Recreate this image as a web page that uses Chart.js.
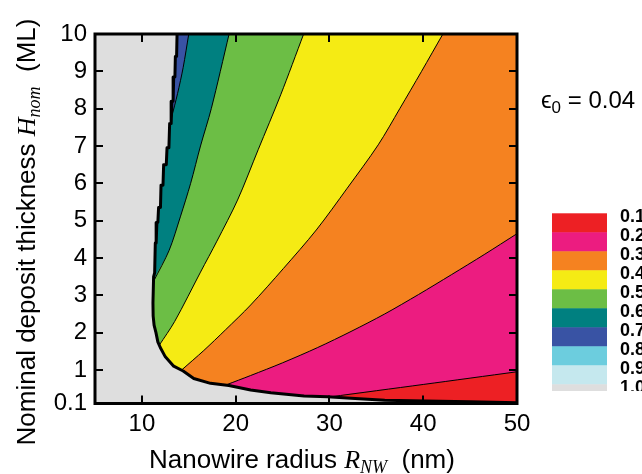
<!DOCTYPE html>
<html><head><meta charset="utf-8">
<script src="https://cdn.jsdelivr.net/npm/chart.js@4.4.1/dist/chart.umd.min.js"></script>
<style>html,body{margin:0;padding:0;background:#fff;}canvas{display:block;}</style>
</head><body>
<canvas id="c" width="642" height="474"></canvas>
<script>
// ---- axes ----
const xTicks = [10, 20, 30, 40, 50];
const xTickLabels = ['10', '20', '30', '40', '50'];
const yTicks = [0.1, 1, 2, 3, 4, 5, 6, 7, 8, 9, 10];
const yTickLabels = ['0.1', '1', '2', '3', '4', '5', '6', '7', '8', '9', '10'];

// ---- contour lines ([R_NW, H_nom]) ----
// thick outer boundary of the non-gray area (top -> bottom right)
const edgeLine = [
  [13.75,10],[13.7,9.4],[13.57,9.4],[13.52,8.85],[13.39,8.85],[13.33,8.2],[13.2,8.2],
  [13.12,7.6],[12.96,7.6],[12.88,6.95],[12.68,6.95],[12.6,6.5],[12.32,6.5],[12.25,5.95],
  [12.04,5.95],[11.98,5.35],[11.78,5.35],[11.7,4.95],[11.6,4.95],[11.52,4.4],[11.43,4.4],
  [11.36,3.6],[11.25,3.5],[11.18,2.8],[11.2,2.45],[11.3,2.2],[11.5,2.0],[11.7,1.75],
  [11.96,1.6],[12.5,1.35],[13.39,1.1],[14.4,0.97],[15.53,0.77],[17.32,0.64],[19.28,0.58],
  [21.6,0.46],[23.75,0.39],[27.3,0.30],[29.8,0.28],[32.3,0.24],[35.9,0.19],[40.2,0.17],
  [45,0.15],[50,0.12]
];
const line07 = [[15.0,10],[14.4,9.1],[13.8,8.4],[13.15,7.75]];
const line06 = [[19.3,10],[17.4,8],[16.25,7],[15.2,6],[14.1,5.1],[12.9,4.2],[11.3,3.4]];
const line05 = [[27.25,10],[24.8,8.37],[22.4,6.9],[20.2,5.55],[18.0,4.45],[16.25,3.62],[13.5,2.3],[11.85,1.66]];
const line04 = [[42.1,10],[39.8,8.99],[37.5,8.0],[35.2,7.03],[31.9,5.87],[28.6,4.75],[25.1,3.72],
  [21.6,2.74],[18.9,2.07],[16.6,1.52],[14.25,1.0]];
const line03 = [[50,4.65],[46.5,4.09],[43,3.55],[39.5,3.02],[35.9,2.5],[32.3,2.03],[28.75,1.6],
  [25,1.19],[21.6,0.85],[19.0,0.6]];
const line02 = [[50,0.95],[40,0.61],[30.0,0.275]];

// ---- colour scale ----
const levelLabels = ['0.1','0.2','0.3','0.4','0.5','0.6','0.7','0.8','0.9','1.0'];
const levelColors = ['#ED2024','#EC1C80','#F58220','#F5EB14','#6CBE45','#008080','#3953A4','#6CCDDE','#C5E8EE','#DEDEDE'];
const epsLabel = '0.04';

const SMOOTH = 0.3;
const pts = a => a.map(([x, y]) => ({x, y}));
function region(contour, fromTop) {
  const jy = contour[contour.length - 1][1];
  const p = contour.concat(edgeLine.filter(q => q[1] < jy));
  if (fromTop) p.push([50, 10]);
  return pts(p);
}
function area(data, color, order, tension) {
  return {data, showLine: true, fill: 'shape', backgroundColor: color, borderColor: 'rgba(0,0,0,0)',
    borderWidth: 0, pointRadius: 0, tension, order};
}
function stroke(data, w, order, tension) {
  return {data: pts(data), showLine: true, fill: false, borderColor: '#000', borderWidth: w,
    pointRadius: 0, tension, order, borderJoinStyle: 'round', borderCapStyle: 'butt'};
}

const datasets = [
  area(pts([[5,0.1],[50,0.1],[50,10],[5,10]]), levelColors[9], 30, 0),
  area(pts(edgeLine.concat([[50,10]])), levelColors[6], 29, 0),
  area(region(line07, true), levelColors[5], 28, SMOOTH),
  area(region(line06, true), levelColors[4], 27, SMOOTH),
  area(region(line05, true), levelColors[3], 26, SMOOTH),
  area(region(line04, true), levelColors[2], 25, SMOOTH),
  area(region(line03, false), levelColors[1], 24, SMOOTH),
  area(region(line02, false), levelColors[0], 23, SMOOTH),
  stroke(line07, 1, 5, SMOOTH), stroke(line06, 1, 5, SMOOTH), stroke(line05, 1, 5, SMOOTH),
  stroke(line04, 1, 5, SMOOTH), stroke(line03, 1, 5, SMOOTH), stroke(line02, 1, 5, SMOOTH),
  stroke(edgeLine, 3, 1, 0)
];

const framePlugin = {
  id: 'frame',
  afterDatasetsDraw(chart) {
    const {ctx, chartArea: a, scales: {x, y}} = chart;
    ctx.save();
    ctx.strokeStyle = '#000';
    ctx.lineWidth = 2;
    const seg = (x1, y1, x2, y2) => { ctx.beginPath(); ctx.moveTo(x1, y1); ctx.lineTo(x2, y2); ctx.stroke(); };
    xTicks.forEach(v => {
      if (v >= 50) return;
      const px = Math.round(x.getPixelForValue(v));
      seg(px, a.bottom, px, a.bottom - 8);
      seg(px, a.top, px, a.top + 8);
    });
    yTicks.forEach(v => {
      if (v <= 0.1 || v >= 10) return;
      const py = Math.round(y.getPixelForValue(v));
      seg(a.left, py, a.left + 8, py);
      seg(a.right, py, a.right - 8, py);
    });
    ctx.lineWidth = 3;
    ctx.strokeRect(a.left, a.top, a.right - a.left, a.bottom - a.top);
    ctx.restore();
  }
};

function drawPieces(ctx, pieces, cx, cy) {
  let total = 0;
  pieces.forEach(p => { ctx.font = p.f; p.w = ctx.measureText(p.t).width; total += p.w; });
  let x = cx - total / 2;
  pieces.forEach(p => { ctx.font = p.f; ctx.fillText(p.t, x, cy + (p.dy || 0)); x += p.w; });
}

const textPlugin = {
  id: 'texts',
  afterDraw(chart) {
    const ctx = chart.ctx;
    ctx.save();
    ctx.fillStyle = '#000';
    ctx.textBaseline = 'alphabetic';
    ctx.textAlign = 'left';
    const sans = '26px "Liberation Sans", Arial, sans-serif';
    const ser = 'italic 26px "Liberation Serif", serif';
    const serSub = 'italic 18px "Liberation Serif", serif';
    // x title
    drawPieces(ctx, [
      {t: 'Nanowire radius ', f: sans},
      {t: 'R', f: ser},
      {t: 'NW', f: serSub, dy: 5},
      {t: '  (nm)', f: sans}
    ], 302, 468);
    // y title
    ctx.save();
    ctx.translate(35, 232);
    ctx.rotate(-Math.PI / 2);
    drawPieces(ctx, [
      {t: 'Nominal deposit thickness ', f: sans},
      {t: 'H', f: ser},
      {t: 'nom', f: serSub, dy: 5},
      {t: '  (ML)', f: sans}
    ], 0, 0);
    ctx.restore();
    // epsilon label
    ctx.font = '24px "Liberation Sans", "DejaVu Sans", sans-serif';
    let ex = 541;
    ctx.fillText('\u03F5', ex, 108);
    ex += ctx.measureText('\u03F5').width;
    ctx.font = '17px "Liberation Sans", "DejaVu Sans", sans-serif';
    ctx.fillText('0', ex, 113);
    ex += ctx.measureText('0').width;
    ctx.font = '24px "Liberation Sans", "DejaVu Sans", sans-serif';
    ctx.fillText(' = ' + epsLabel, ex, 108);
    // colour bar
    ctx.save();
    ctx.beginPath();
    ctx.rect(540, 190, 102, 201);
    ctx.clip();
    const top = 213.3, h = 19;
    levelColors.forEach((c, i) => {
      ctx.fillStyle = c;
      ctx.fillRect(552, top + i * h, 55, h + 0.5);
    });
    ctx.fillStyle = '#000';
    ctx.font = 'bold 18px "Liberation Sans", Arial, sans-serif';
    levelLabels.forEach((l, i) => ctx.fillText(l, 620, 221.5 + i * h));
    ctx.restore();
    ctx.restore();
  }
};

new Chart(document.getElementById('c'), {
  type: 'scatter',
  data: {datasets},
  options: {
    responsive: false,
    animation: false,
    devicePixelRatio: 1,
    layout: {padding: {top: 34, right: 125, left: 0, bottom: 0}},
    plugins: {legend: {display: false}, tooltip: {enabled: false}},
    scales: {
      x: {
        type: 'linear', min: 5, max: 50,
        afterBuildTicks: s => { s.ticks = xTicks.map(v => ({value: v})); },
        afterFit: s => { s.height = 70.5; },
        grid: {display: false, drawTicks: false},
        border: {display: false},
        ticks: {font: {family: '"Liberation Sans", Arial, sans-serif', size: 24}, color: '#000', padding: 6,
          maxRotation: 0, autoSkip: false, callback: v => xTickLabels[xTicks.indexOf(v)]}
      },
      y: {
        type: 'linear', min: 0.1, max: 10,
        afterBuildTicks: s => { s.ticks = yTicks.map(v => ({value: v})); },
        afterFit: s => { s.width = 95; },
        grid: {display: false, drawTicks: false},
        border: {display: false},
        ticks: {font: {family: '"Liberation Sans", Arial, sans-serif', size: 24}, color: '#000', padding: 8,
          autoSkip: false, callback: v => yTickLabels[yTicks.indexOf(v)]}
      }
    }
  },
  plugins: [framePlugin, textPlugin]
});
</script>
</body></html>
